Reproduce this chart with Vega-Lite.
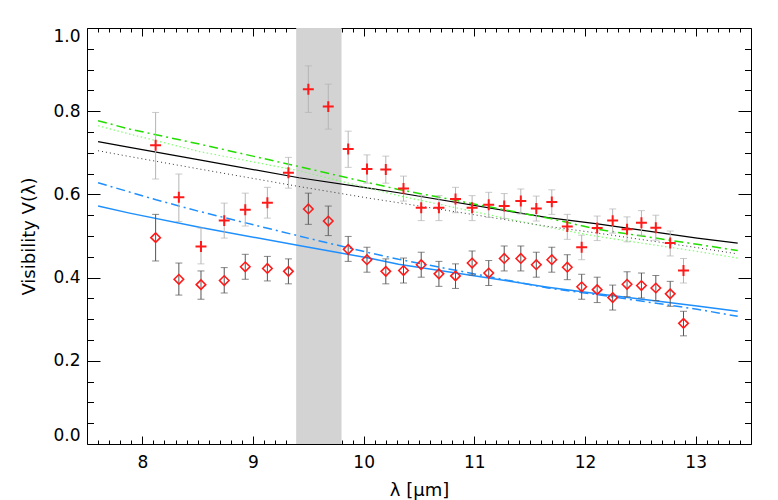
{
  "$schema": "https://vega.github.io/schema/vega-lite/v6.json",
  "width": 664,
  "height": 416,
  "autosize": {"type": "none"},
  "padding": {"left": 87, "top": 28, "right": 27, "bottom": 56},
  "background": "white",
  "config": {
    "view": {"stroke": null},
    "axis": {
      "grid": false,
      "labelFont": "DejaVu Sans",
      "titleFont": "DejaVu Sans",
      "labelFontSize": 17,
      "titleFontSize": 17,
      "labelColor": "black",
      "titleColor": "black",
      "titleFontWeight": "normal",
      "domainColor": "black",
      "tickColor": "black",
      "domainWidth": 1,
      "tickWidth": 1
    }
  },
  "datasets": {
    "obs": [
      {"lam": 8.12, "vc": 0.718, "cLo": 0.637, "cHi": 0.797, "vd": 0.496, "dLo": 0.440, "dHi": 0.552},
      {"lam": 8.33, "vc": 0.593, "cLo": 0.535, "cHi": 0.649, "vd": 0.396, "dLo": 0.358, "dHi": 0.435},
      {"lam": 8.53, "vc": 0.475, "cLo": 0.433, "cHi": 0.519, "vd": 0.383, "dLo": 0.348, "dHi": 0.416},
      {"lam": 8.74, "vc": 0.537, "cLo": 0.495, "cHi": 0.579, "vd": 0.393, "dLo": 0.363, "dHi": 0.424},
      {"lam": 8.93, "vc": 0.563, "cLo": 0.524, "cHi": 0.603, "vd": 0.426, "dLo": 0.396, "dHi": 0.456},
      {"lam": 9.13, "vc": 0.580, "cLo": 0.543, "cHi": 0.617, "vd": 0.422, "dLo": 0.392, "dHi": 0.451},
      {"lam": 9.32, "vc": 0.652, "cLo": 0.615, "cHi": 0.689, "vd": 0.415, "dLo": 0.385, "dHi": 0.445},
      {"lam": 9.50, "vc": 0.853, "cLo": 0.797, "cHi": 0.909, "vd": 0.565, "dLo": 0.528, "dHi": 0.603},
      {"lam": 9.68, "vc": 0.811, "cLo": 0.757, "cHi": 0.865, "vd": 0.536, "dLo": 0.501, "dHi": 0.572},
      {"lam": 9.86, "vc": 0.709, "cLo": 0.665, "cHi": 0.752, "vd": 0.468, "dLo": 0.439, "dHi": 0.499},
      {"lam": 10.03, "vc": 0.661, "cLo": 0.627, "cHi": 0.695, "vd": 0.443, "dLo": 0.413, "dHi": 0.473},
      {"lam": 10.20, "vc": 0.660, "cLo": 0.627, "cHi": 0.692, "vd": 0.415, "dLo": 0.385, "dHi": 0.445},
      {"lam": 10.36, "vc": 0.614, "cLo": 0.584, "cHi": 0.644, "vd": 0.417, "dLo": 0.387, "dHi": 0.447},
      {"lam": 10.52, "vc": 0.568, "cLo": 0.537, "cHi": 0.597, "vd": 0.431, "dLo": 0.401, "dHi": 0.461},
      {"lam": 10.68, "vc": 0.568, "cLo": 0.537, "cHi": 0.597, "vd": 0.409, "dLo": 0.379, "dHi": 0.439},
      {"lam": 10.83, "vc": 0.589, "cLo": 0.556, "cHi": 0.617, "vd": 0.404, "dLo": 0.374, "dHi": 0.433},
      {"lam": 10.98, "vc": 0.568, "cLo": 0.537, "cHi": 0.597, "vd": 0.435, "dLo": 0.406, "dHi": 0.464},
      {"lam": 11.13, "vc": 0.575, "cLo": 0.545, "cHi": 0.605, "vd": 0.411, "dLo": 0.381, "dHi": 0.441},
      {"lam": 11.27, "vc": 0.572, "cLo": 0.542, "cHi": 0.602, "vd": 0.446, "dLo": 0.416, "dHi": 0.476},
      {"lam": 11.42, "vc": 0.584, "cLo": 0.553, "cHi": 0.613, "vd": 0.446, "dLo": 0.416, "dHi": 0.476},
      {"lam": 11.56, "vc": 0.566, "cLo": 0.536, "cHi": 0.596, "vd": 0.431, "dLo": 0.401, "dHi": 0.461},
      {"lam": 11.70, "vc": 0.582, "cLo": 0.552, "cHi": 0.611, "vd": 0.443, "dLo": 0.413, "dHi": 0.473},
      {"lam": 11.84, "vc": 0.523, "cLo": 0.492, "cHi": 0.552, "vd": 0.425, "dLo": 0.395, "dHi": 0.455},
      {"lam": 11.97, "vc": 0.473, "cLo": 0.443, "cHi": 0.502, "vd": 0.378, "dLo": 0.348, "dHi": 0.408},
      {"lam": 12.11, "vc": 0.519, "cLo": 0.489, "cHi": 0.548, "vd": 0.371, "dLo": 0.340, "dHi": 0.401},
      {"lam": 12.25, "vc": 0.537, "cLo": 0.507, "cHi": 0.565, "vd": 0.352, "dLo": 0.322, "dHi": 0.382},
      {"lam": 12.38, "vc": 0.516, "cLo": 0.486, "cHi": 0.546, "vd": 0.384, "dLo": 0.354, "dHi": 0.414},
      {"lam": 12.51, "vc": 0.532, "cLo": 0.502, "cHi": 0.561, "vd": 0.381, "dLo": 0.351, "dHi": 0.411},
      {"lam": 12.64, "vc": 0.520, "cLo": 0.490, "cHi": 0.550, "vd": 0.375, "dLo": 0.345, "dHi": 0.405},
      {"lam": 12.77, "vc": 0.483, "cLo": 0.452, "cHi": 0.512, "vd": 0.361, "dLo": 0.331, "dHi": 0.391},
      {"lam": 12.89, "vc": 0.417, "cLo": 0.387, "cHi": 0.446, "vd": 0.290, "dLo": 0.260, "dHi": 0.319}
    ],
    "models": [
      {"model": "bk", "lam": 7.6, "v": 0.727}, {"model": "bk", "lam": 7.885, "v": 0.713}, {"model": "bk", "lam": 8.516, "v": 0.683}, {"model": "bk", "lam": 9.415, "v": 0.640}, {"model": "bk", "lam": 10.046, "v": 0.615}, {"model": "bk", "lam": 10.315, "v": 0.604}, {"model": "bk", "lam": 11.665, "v": 0.544}, {"model": "bk", "lam": 12.113, "v": 0.529}, {"model": "bk", "lam": 13.013, "v": 0.495}, {"model": "bk", "lam": 13.38, "v": 0.483},
      {"model": "bkdot", "lam": 7.6, "v": 0.705}, {"model": "bkdot", "lam": 7.885, "v": 0.691}, {"model": "bkdot", "lam": 8.516, "v": 0.661}, {"model": "bkdot", "lam": 9.415, "v": 0.619}, {"model": "bkdot", "lam": 10.046, "v": 0.591}, {"model": "bkdot", "lam": 10.315, "v": 0.580}, {"model": "bkdot", "lam": 11.665, "v": 0.523}, {"model": "bkdot", "lam": 12.113, "v": 0.507}, {"model": "bkdot", "lam": 13.013, "v": 0.472}, {"model": "bkdot", "lam": 13.38, "v": 0.457},
      {"model": "gdd", "lam": 7.6, "v": 0.777}, {"model": "gdd", "lam": 7.885, "v": 0.757}, {"model": "gdd", "lam": 8.516, "v": 0.721}, {"model": "gdd", "lam": 9.415, "v": 0.667}, {"model": "gdd", "lam": 10.046, "v": 0.628}, {"model": "gdd", "lam": 10.315, "v": 0.612}, {"model": "gdd", "lam": 11.665, "v": 0.543}, {"model": "gdd", "lam": 12.113, "v": 0.516}, {"model": "gdd", "lam": 13.013, "v": 0.480}, {"model": "gdd", "lam": 13.38, "v": 0.465},
      {"model": "gdot", "lam": 7.6, "v": 0.765}, {"model": "gdot", "lam": 7.885, "v": 0.745}, {"model": "gdot", "lam": 8.516, "v": 0.703}, {"model": "gdot", "lam": 9.415, "v": 0.657}, {"model": "gdot", "lam": 10.315, "v": 0.597}, {"model": "gdot", "lam": 11.665, "v": 0.521}, {"model": "gdot", "lam": 12.113, "v": 0.499}, {"model": "gdot", "lam": 13.013, "v": 0.463}, {"model": "gdot", "lam": 13.38, "v": 0.447},
      {"model": "bdd", "lam": 7.6, "v": 0.628}, {"model": "bdd", "lam": 8.124, "v": 0.587}, {"model": "bdd", "lam": 8.516, "v": 0.559}, {"model": "bdd", "lam": 9.415, "v": 0.500}, {"model": "bdd", "lam": 10.046, "v": 0.460}, {"model": "bdd", "lam": 10.315, "v": 0.444}, {"model": "bdd", "lam": 11.665, "v": 0.375}, {"model": "bdd", "lam": 12.113, "v": 0.359}, {"model": "bdd", "lam": 13.013, "v": 0.324}, {"model": "bdd", "lam": 13.38, "v": 0.307},
      {"model": "bs", "lam": 7.6, "v": 0.572}, {"model": "bs", "lam": 7.885, "v": 0.555}, {"model": "bs", "lam": 8.516, "v": 0.521}, {"model": "bs", "lam": 9.415, "v": 0.477}, {"model": "bs", "lam": 10.046, "v": 0.447}, {"model": "bs", "lam": 10.315, "v": 0.432}, {"model": "bs", "lam": 11.665, "v": 0.377}, {"model": "bs", "lam": 12.113, "v": 0.361}, {"model": "bs", "lam": 13.013, "v": 0.332}, {"model": "bs", "lam": 13.38, "v": 0.319}
    ],
    "band": [{"from": 9.39, "to": 9.80}]
  },
  "resolve": {"axis": {"x": "independent", "y": "independent"}},
  "layer": [
    {
      "data": {"name": "band"},
      "mark": {"type": "rect", "color": "#d3d3d3"},
      "encoding": {
        "x": {"field": "from", "type": "quantitative", "scale": {"domain": [7.5, 13.5], "nice": false, "zero": false},
          "axis": {"orient": "top", "values": [8, 9, 10, 11, 12, 13], "tickSize": -8, "labels": false, "domain": true, "title": null}},
        "x2": {"field": "to"}
      }
    },
    {
      "data": {"name": "models"},
      "transform": [{"filter": "datum.model == 'bk'"}],
      "mark": {"type": "line", "color": "black", "strokeWidth": 1.2},
      "encoding": {
        "x": {"field": "lam", "type": "quantitative",
          "axis": {"orient": "bottom", "values": [8, 9, 10, 11, 12, 13], "tickSize": -8, "labelPadding": 18, "title": "λ [μm]", "titleFontSize": 18, "titlePadding": 11, "domain": true}},
        "y": {"field": "v", "type": "quantitative", "scale": {"domain": [0, 1], "nice": false, "zero": false},
          "axis": {"orient": "left", "values": [0, 0.2, 0.4, 0.6, 0.8, 1.0], "format": ".1f", "tickSize": -13, "labelPadding": 20, "labelFlush": true, "title": "Visibility V(λ)", "titleFontSize": 18, "titlePadding": 14, "domain": true}}
      }
    },
    {
      "data": {"name": "models"},
      "transform": [{"filter": "datum.model == 'bkdot'"}],
      "mark": {"type": "line", "color": "#333333", "strokeWidth": 1, "strokeDash": [1, 3]},
      "encoding": {
        "x": {"field": "lam", "type": "quantitative",
          "axis": {"orient": "bottom", "values": [7.6, 7.7, 7.8, 7.9, 8.1, 8.2, 8.3, 8.4, 8.5, 8.6, 8.7, 8.8, 8.9, 9.1, 9.2, 9.3, 9.4, 9.5, 9.6, 9.7, 9.8, 9.9, 10.1, 10.2, 10.3, 10.4, 10.5, 10.6, 10.7, 10.8, 10.9, 11.1, 11.2, 11.3, 11.4, 11.5, 11.6, 11.7, 11.8, 11.9, 12.1, 12.2, 12.3, 12.4, 12.5, 12.6, 12.7, 12.8, 12.9, 13.1, 13.2, 13.3, 13.4], "tickSize": -4, "labels": false, "domain": false, "title": null}},
        "y": {"field": "v", "type": "quantitative",
          "axis": {"orient": "left", "values": [0.05, 0.1, 0.15, 0.25, 0.3, 0.35, 0.45, 0.5, 0.55, 0.65, 0.7, 0.75, 0.85, 0.9, 0.95], "tickSize": -6.5, "labels": false, "domain": false, "title": null}}
      }
    },
    {
      "data": {"name": "models"},
      "transform": [{"filter": "datum.model == 'gdot'"}],
      "mark": {"type": "line", "color": "#7dff6e", "strokeWidth": 1.2, "strokeDash": [1.5, 2.5]},
      "encoding": {
        "x": {"field": "lam", "type": "quantitative",
          "axis": {"orient": "top", "values": [7.6, 7.7, 7.8, 7.9, 8.1, 8.2, 8.3, 8.4, 8.5, 8.6, 8.7, 8.8, 8.9, 9.1, 9.2, 9.3, 9.4, 9.5, 9.6, 9.7, 9.8, 9.9, 10.1, 10.2, 10.3, 10.4, 10.5, 10.6, 10.7, 10.8, 10.9, 11.1, 11.2, 11.3, 11.4, 11.5, 11.6, 11.7, 11.8, 11.9, 12.1, 12.2, 12.3, 12.4, 12.5, 12.6, 12.7, 12.8, 12.9, 13.1, 13.2, 13.3, 13.4], "tickSize": -4, "labels": false, "domain": false, "title": null}},
        "y": {"field": "v", "type": "quantitative",
          "axis": {"orient": "right", "values": [0, 0.2, 0.4, 0.6, 0.8, 1.0], "tickSize": -13, "labels": false, "domain": true, "title": null}}
      }
    },
    {
      "data": {"name": "models"},
      "transform": [{"filter": "datum.model == 'gdd'"}],
      "mark": {"type": "line", "color": "#22dd00", "strokeWidth": 1.5, "strokeDash": [9, 4, 2, 4]},
      "encoding": {
        "x": {"field": "lam", "type": "quantitative", "axis": null},
        "y": {"field": "v", "type": "quantitative",
          "axis": {"orient": "right", "values": [0.05, 0.1, 0.15, 0.25, 0.3, 0.35, 0.45, 0.5, 0.55, 0.65, 0.7, 0.75, 0.85, 0.9, 0.95], "tickSize": -6.5, "labels": false, "domain": false, "title": null}}
      }
    },
    {
      "data": {"name": "models"},
      "transform": [{"filter": "datum.model == 'bdd'"}],
      "mark": {"type": "line", "color": "#1e8fff", "strokeWidth": 1.5, "strokeDash": [9, 4, 2, 4]},
      "encoding": {
        "x": {"field": "lam", "type": "quantitative", "axis": null},
        "y": {"field": "v", "type": "quantitative", "axis": null}
      }
    },
    {
      "data": {"name": "models"},
      "transform": [{"filter": "datum.model == 'bs'"}],
      "mark": {"type": "line", "color": "#1e8fff", "strokeWidth": 1.5},
      "encoding": {
        "x": {"field": "lam", "type": "quantitative", "axis": null},
        "y": {"field": "v", "type": "quantitative", "axis": null}
      }
    },
    {
      "data": {"name": "obs"},
      "mark": {"type": "rule", "color": "#b4b4b4", "strokeWidth": 1},
      "encoding": {
        "x": {"field": "lam", "type": "quantitative", "axis": null},
        "y": {"field": "cLo", "type": "quantitative", "axis": null},
        "y2": {"field": "cHi"}
      }
    },
    {
      "data": {"name": "obs"},
      "mark": {"type": "tick", "orient": "horizontal", "color": "#b4b4b4", "size": 7, "thickness": 1},
      "encoding": {
        "x": {"field": "lam", "type": "quantitative", "axis": null},
        "y": {"field": "cLo", "type": "quantitative", "axis": null}
      }
    },
    {
      "data": {"name": "obs"},
      "mark": {"type": "tick", "orient": "horizontal", "color": "#b4b4b4", "size": 7, "thickness": 1},
      "encoding": {
        "x": {"field": "lam", "type": "quantitative", "axis": null},
        "y": {"field": "cHi", "type": "quantitative", "axis": null}
      }
    },
    {
      "data": {"name": "obs"},
      "mark": {"type": "rule", "color": "#555555", "strokeWidth": 1},
      "encoding": {
        "x": {"field": "lam", "type": "quantitative", "axis": null},
        "y": {"field": "dLo", "type": "quantitative", "axis": null},
        "y2": {"field": "dHi"}
      }
    },
    {
      "data": {"name": "obs"},
      "mark": {"type": "tick", "orient": "horizontal", "color": "#555555", "size": 7, "thickness": 1},
      "encoding": {
        "x": {"field": "lam", "type": "quantitative", "axis": null},
        "y": {"field": "dLo", "type": "quantitative", "axis": null}
      }
    },
    {
      "data": {"name": "obs"},
      "mark": {"type": "tick", "orient": "horizontal", "color": "#555555", "size": 7, "thickness": 1},
      "encoding": {
        "x": {"field": "lam", "type": "quantitative", "axis": null},
        "y": {"field": "dHi", "type": "quantitative", "axis": null}
      }
    },
    {
      "data": {"name": "obs"},
      "mark": {"type": "point", "shape": "M-1,0L1,0M0,-1L0,1", "filled": false, "stroke": "#ff1a1a", "strokeWidth": 2, "size": 120, "opacity": 1},
      "encoding": {
        "x": {"field": "lam", "type": "quantitative", "axis": null},
        "y": {"field": "vc", "type": "quantitative", "axis": null}
      }
    },
    {
      "data": {"name": "obs"},
      "mark": {"type": "point", "shape": "diamond", "filled": false, "stroke": "#ff1a1a", "strokeWidth": 1.6, "size": 90, "opacity": 1},
      "encoding": {
        "x": {"field": "lam", "type": "quantitative", "axis": null},
        "y": {"field": "vd", "type": "quantitative", "axis": null}
      }
    }
  ]
}
